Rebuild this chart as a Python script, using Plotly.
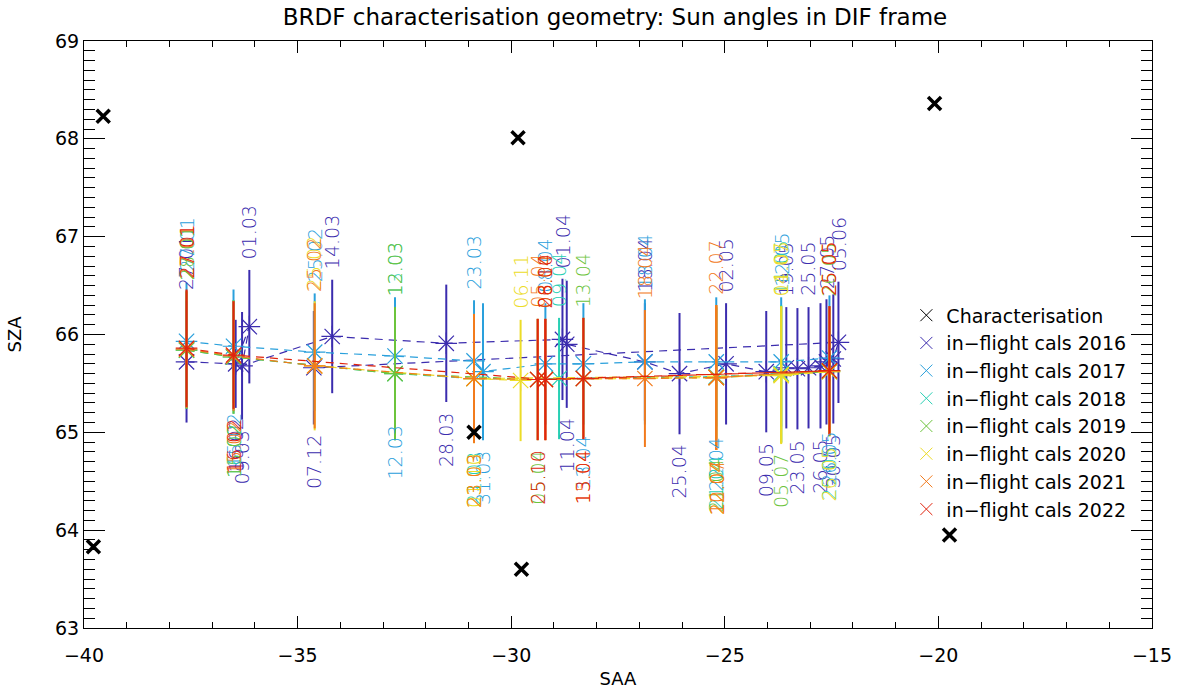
import plotly.graph_objects as go

# Characterisation geometry (black crosses)
char_saa = [-39.55, -39.78, -29.84, -30.87, -29.76, -20.09, -19.74]
char_sza = [68.23, 63.83, 68.01, 65.00, 63.60, 68.36, 63.95]

years = ["2016", "2017", "2018", "2019", "2020", "2021", "2022"]
year_colors = ["#3b2cae", "#2aa0dc", "#28d0b4", "#6cc43c", "#ecdc28", "#f27a1c", "#e0240e"]

# In-flight calibrations, one set of lists per year
dates_2016 = ["27.01", "16.02", "01.03", "09.03", "14.03", "28.03", "01.04", "11.04", "18.04", "25.04",
              "02.05", "09.05", "19.05", "23.05", "25.05", "26.05", "27.05", "30.05", "05.06", "07.12"]
saa_2016 = [-37.60, -36.45, -36.13, -36.30, -34.19, -31.52, -28.80, -28.70, -26.87, -26.06,
            -24.97, -24.03, -23.56, -23.30, -23.04, -22.76, -22.62, -22.46, -22.34, -34.62]
sza_2016 = [65.72, 65.70, 66.08, 65.68, 65.98, 65.91, 65.95, 65.90, 65.72, 65.60,
            65.70, 65.62, 65.66, 65.65, 65.66, 65.68, 65.72, 65.75, 65.92, 65.66]
err_2016 = [0.62, 0.45, 0.58, 0.55, 0.58, 0.60, 0.62, 0.65, 0.60, 0.62,
            0.62, 0.62, 0.62, 0.62, 0.62, 0.64, 0.64, 0.66, 0.62, 0.58]

dates_2017 = ["27.01", "15.02", "25.02", "12.03", "23.03", "31.03", "08.04", "13.04", "18.04", "22.04", "12.05", "26.05"]
saa_2017 = [-37.60, -36.50, -34.60, -32.72, -30.87, -30.66, -29.20, -28.31, -26.87, -25.20, -23.68, -22.55]
sza_2017 = [65.93, 65.88, 65.82, 65.78, 65.73, 65.62, 65.70, 65.70, 65.72, 65.72, 65.72, 65.76]
err_2017 = [0.60, 0.58, 0.60, 0.60, 0.62, 0.70, 0.62, 0.62, 0.64, 0.66, 0.66, 0.64]

dates_2018 = ["27.01", "16.02", "13.03", "21.03", "09.04", "21.04", "11.05", "25.05"]
saa_2018 = [-37.60, -36.50, -32.72, -30.87, -28.88, -25.20, -23.68, -22.55]
sza_2018 = [65.84, 65.77, 65.60, 65.55, 65.55, 65.57, 65.60, 65.63]
err_2018 = [0.60, 0.58, 0.68, 0.64, 0.62, 0.70, 0.70, 0.66]

dates_2019 = ["28.01", "15.02", "12.03", "05.04", "13.04", "21.04", "26.05", "05.07"]
saa_2019 = [-37.60, -36.50, -32.72, -29.38, -28.31, -25.20, -22.55, -23.68]
sza_2019 = [65.84, 65.77, 65.60, 65.54, 65.55, 65.56, 65.62, 65.59]
err_2019 = [0.60, 0.58, 0.68, 0.62, 0.62, 0.72, 0.66, 0.70]

dates_2020 = ["25.02", "23.03", "08.04", "22.04", "11.05", "26.05", "04.07", "01.10", "06.11"]
saa_2020 = [-34.60, -30.87, -29.20, -25.20, -23.68, -22.55, -23.68, -30.87, -29.78]
sza_2020 = [65.68, 65.55, 65.54, 65.56, 65.59, 65.62, 65.58, 65.55, 65.53]
err_2020 = [0.66, 0.66, 0.62, 0.74, 0.70, 0.66, 0.70, 0.66, 0.62]

dates_2021 = ["27.01", "15.02", "25.02", "23.03", "05.04", "15.04", "18.04", "22.04", "25.05", "10.07", "22.07"]
saa_2021 = [-37.60, -36.50, -34.60, -30.87, -29.38, -28.31, -26.87, -25.20, -22.55, -25.20, -25.20]
sza_2021 = [65.85, 65.78, 65.68, 65.55, 65.54, 65.55, 65.55, 65.56, 65.63, 65.56, 65.56]
err_2021 = [0.60, 0.56, 0.64, 0.66, 0.62, 0.62, 0.70, 0.74, 0.66, 0.74, 0.74]

dates_2022 = ["27.01", "16.02", "08.04", "13.04", "25.05", "25.10", "26.10"]
saa_2022 = [-37.60, -36.50, -29.20, -28.31, -22.55, -29.38, -29.20]
sza_2022 = [65.86, 65.79, 65.54, 65.55, 65.63, 65.54, 65.54]
err_2022 = [0.60, 0.55, 0.62, 0.62, 0.66, 0.62, 0.62]

cal_dates = [dates_2016, dates_2017, dates_2018, dates_2019, dates_2020, dates_2021, dates_2022]
cal_saa = [saa_2016, saa_2017, saa_2018, saa_2019, saa_2020, saa_2021, saa_2022]
cal_sza = [sza_2016, sza_2017, sza_2018, sza_2019, sza_2020, sza_2021, sza_2022]
cal_err = [err_2016, err_2017, err_2018, err_2019, err_2020, err_2021, err_2022]

FONT = "DejaVu Sans"
fig = go.Figure()
annotations = []
label_gap = 0.1

for yr, col, d, xs, ys, es in zip(years, year_colors, cal_dates, cal_saa, cal_sza, cal_err):
    fig.add_trace(go.Scatter(
        x=xs, y=ys, mode="lines+markers", showlegend=False, hoverinfo="skip",
        line=dict(color=col, width=1.2, dash="8px,6px"),
        marker=dict(symbol="asterisk-open", size=18, color=col, line=dict(color=col, width=1.2)),
        error_y=dict(type="data", array=es, visible=True, color=col, thickness=2, width=0),
    ))
    # date labels, alternately above and below the error bar
    for i, (lab, x, y, e) in enumerate(zip(d, xs, ys, es)):
        up = (i % 2 == 0)
        annotations.append(dict(
            x=x, y=(y + e + label_gap) if up else (y - e - label_gap),
            xref="x", yref="y", text=lab, showarrow=False, textangle=-90,
            xanchor="center", yanchor="bottom" if up else "top",
            font=dict(family=FONT, size=19, color=col, weight=200), borderpad=0,
        ))

fig.add_trace(go.Scatter(
    x=char_saa, y=char_sza, mode="markers", showlegend=False, hoverinfo="skip",
    marker=dict(symbol="x-thin-open", size=13, color="black", line=dict(color="black", width=3.5)),
))

# legend entries
fig.add_trace(go.Scatter(
    x=[None], y=[None], mode="markers", name="Characterisation",
    marker=dict(symbol="x-thin-open", size=12, color="black", line=dict(color="black", width=1)),
))
for yr, col in zip(years, year_colors):
    fig.add_trace(go.Scatter(
        x=[None], y=[None], mode="markers", name="in\u2212flight cals " + yr,
        marker=dict(symbol="x-thin-open", size=12, color=col, line=dict(color=col, width=1)),
    ))

axis_common = dict(
    showline=True, linecolor="black", linewidth=1, mirror="allticks",
    ticks="inside", tickcolor="black", showgrid=False, zeroline=False,
    automargin=False,
    tickfont=dict(family=FONT, size=19, color="black"),
)

fig.update_layout(
    width=1185, height=689,
    margin=dict(l=84, r=33, t=41, b=61),
    paper_bgcolor="white", plot_bgcolor="white",
    title=dict(text="BRDF characterisation geometry: Sun angles in DIF frame",
               x=0.519, xanchor="center", y=0.975, yanchor="middle",
               font=dict(family=FONT, size=23, color="black")),
    xaxis=dict(range=[-40, -15], dtick=5, tick0=-40, ticklen=12, ticklabelstandoff=10,
               minor=dict(dtick=1, ticklen=6, ticks="inside", tickcolor="black"),
               title=dict(text="SAA", font=dict(family=FONT, size=18, color="black"), standoff=8),
               **axis_common),
    yaxis=dict(range=[63, 69], dtick=1, tick0=63, ticklen=21,
               minor=dict(dtick=0.1, ticklen=11, ticks="inside", tickcolor="black"),
               title=dict(text="SZA", font=dict(family=FONT, size=18, color="black"), standoff=28),
               **axis_common),
    legend=dict(x=0.77, y=0.565, xanchor="left", yanchor="top",
                bgcolor="rgba(0,0,0,0)", borderwidth=0,
                font=dict(family=FONT, size=19, color="black"),
                itemwidth=30, tracegroupgap=0),
    annotations=annotations,
)

fig.write_html("out.html")
